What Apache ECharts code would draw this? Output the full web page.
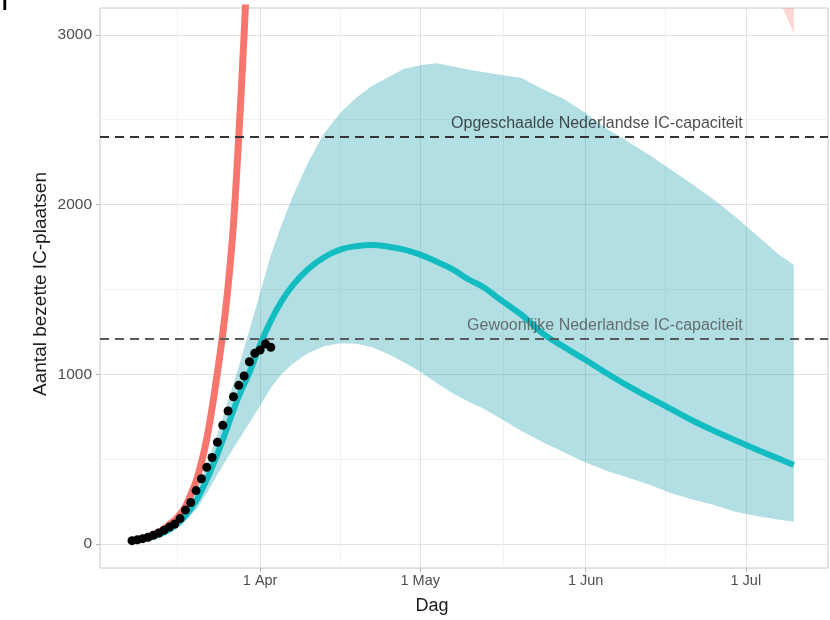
<!DOCTYPE html>
<html><head><meta charset="utf-8">
<script src="https://cdn.jsdelivr.net/npm/echarts@6/dist/echarts.min.js"></script>
<style>html,body{margin:0;padding:0;background:#fff}#chart{width:830px;height:620px}</style>
</head><body><div id="chart"></div>
<script>
// x values: days since 1 March 2020 (1 Mar = 0)
const xTickDays = [31, 61, 92, 122];
const xTickLabels = ['1 Apr', '1 May', '1 Jun', '1 Jul'];
const xMinorDays = [15.5, 46, 76.5, 107];
const yTicks = [0, 1000, 2000, 3000];
const yTickLabels = ['0', '1000', '2000', '3000'];
const yMinorTicks = [500, 1500, 2500];

// observed ICU occupancy (black dots)
const obsDays = [7,8,9,10,11,12,13,14,15,16,17,18,19,20,21,22,23,24,25,26,27,28,29,30,31,32,33];
const obsValues = [20,25,32,40,52,65,82,100,118,150,200,245,315,385,452,510,600,700,784,868,935,990,1074,1124,1143,1179,1159];

// red scenario (line + ribbon)
const redDays = [7,8,9,10,11,12,13,14,15,16,17,18,19,20,21,22,23,24,25,26,27,28,29,30];
const redValues = [20,26,33,43,55,70,90,115,140,175,220,290,370,480,620,800,1010,1240,1520,1880,2400,3000,3700,4500];
const redLow = [18,23,29,38,48,61,79,100,122,152,192,255,325,425,550,715,905,1110,1370,1700,2180,2740,3380,4120];
const redHigh = [22,29,37,48,62,79,101,130,158,198,248,325,415,535,690,885,1115,1370,1670,2060,2620,3260,4020,4880];
const redTailDays = [127,128,129,130,131];
const redTailLow = [3290,3220,3150,3080,3010];
const redTailHigh = [6000,6000,6000,6000,6000];

// teal scenario (line + ribbon)
const tealDays = [7,9,11,13,15,17,19,21,23,25,27,29,31,33,35,37,40,43,46,49,52,55,58,61,64,67,70,73,76,80,84,88,92,96,100,104,108,112,116,120,124,128,131];
const tealValues = [20,29,44,68,105,165,255,380,530,700,870,1010,1175,1315,1430,1520,1620,1690,1735,1755,1762,1752,1735,1705,1665,1620,1560,1510,1440,1350,1240,1160,1084,1005,930,862,795,728,668,612,557,505,466];
const tealLow = [20,27,40,60,92,140,200,300,410,515,615,715,815,920,1000,1060,1125,1165,1183,1180,1160,1120,1070,1015,950,890,840,795,740,665,600,540,480,430,390,350,300,262,230,190,165,145,131];
const tealHigh = [20,31,48,78,124,200,315,465,645,845,1045,1260,1480,1700,1880,2040,2250,2420,2540,2630,2700,2750,2800,2820,2833,2815,2795,2780,2765,2745,2680,2620,2540,2445,2370,2290,2205,2120,2030,1929,1820,1710,1644];

// IC capacity reference lines
const capacityValues = [2400, 1210];
const capacityLabels = ['Opgeschaalde Nederlandse IC-capaciteit', 'Gewoonlijke Nederlandse IC-capaciteit'];
const capacityLabelAnchors = [[94.1, 2478], [95.6, 1287]];

const FONT = '"Liberation Sans", Arial, Helvetica, sans-serif';

function ribbon(name, days, lo, hi, fill) {
  return {
    type: 'custom', name: name, silent: true, clip: true,
    data: days.map((d, i) => [d, lo[i], hi[i]]),
    encode: { x: 0, y: [1, 2] },
    renderItem: function (params, api) {
      if (params.dataIndex !== 0) return null;
      const pts = [];
      for (let i = 0; i < days.length; i++) pts.push(api.coord([days[i], hi[i]]));
      for (let i = days.length - 1; i >= 0; i--) pts.push(api.coord([days[i], lo[i]]));
      const cs = params.coordSys;
      return {
        type: 'polygon', shape: { points: pts }, style: { fill: fill },
        clipPath: { type: 'rect', shape: { x: cs.x, y: cs.y, width: cs.width, height: cs.height } }
      };
    }
  };
}

const chart = echarts.init(document.getElementById('chart'), null, { renderer: 'canvas' });
chart.setOption({
  animation: false,
  backgroundColor: '#ffffff',
  grid: { left: 100, right: 2, top: 8, bottom: 52, show: true, borderColor: '#c6c6c6', borderWidth: 1, backgroundColor: 'transparent' },
  xAxis: [{
    type: 'value', min: 1.0, max: 137.4,
    axisLine: { show: false, onZero: false },
    axisTick: { show: true, length: 4, lineStyle: { color: '#b3b3b3' }, customValues: xTickDays },
    axisLabel: { customValues: xTickDays, margin: 5, fontSize: 14.5, color: '#4d4d4d', fontFamily: FONT,
      formatter: v => xTickLabels[xTickDays.indexOf(Math.round(v))] },
    splitLine: { show: true, lineStyle: { color: '#e2e2e2', width: 1 } }
  }, {
    type: 'value', min: 1.0, max: 137.4, position: 'top',
    axisLine: { show: false, onZero: false },
    axisTick: { show: false, customValues: xMinorDays },
    axisLabel: { show: false },
    splitLine: { show: true, lineStyle: { color: '#f1f1f1', width: 1 } }
  }],
  yAxis: [{
    type: 'value', min: -141, max: 3158,
    axisLine: { show: false, onZero: false },
    axisTick: { show: true, length: 4, lineStyle: { color: '#b3b3b3' }, customValues: yTicks },
    axisLabel: { customValues: yTicks, margin: 8, fontSize: 15.5, color: '#4d4d4d', fontFamily: FONT,
      formatter: v => yTickLabels[yTicks.indexOf(Math.round(v))] },
    splitLine: { show: true, lineStyle: { color: '#e2e2e2', width: 1 } }
  }, {
    type: 'value', min: -141, max: 3158, position: 'right',
    axisLine: { show: false, onZero: false },
    axisTick: { show: false, customValues: yMinorTicks },
    axisLabel: { show: false },
    splitLine: { show: true, lineStyle: { color: '#f1f1f1', width: 1 } }
  }],
  series: [
    ribbon('redRibbon', redDays, redLow, redHigh, 'rgba(248,118,109,0.3)'),
    ribbon('redRibbonTail', redTailDays, redTailLow, redTailHigh, 'rgba(248,118,109,0.3)'),
    ribbon('tealRibbon', tealDays, tealLow, tealHigh, 'rgba(0,150,165,0.3)'),
    {
      type: 'line', name: 'red', data: redDays.map((d, i) => [d, redValues[i]]),
      showSymbol: false, smooth: 0.3, clip: true, silent: true, z: 3,
      lineStyle: { color: '#F8766D', width: 7 }
    },
    {
      type: 'line', name: 'teal', data: tealDays.map((d, i) => [d, tealValues[i]]),
      showSymbol: false, smooth: 0.4, clip: true, silent: true, z: 3,
      lineStyle: { color: '#13bcc1', width: 6 }
    },
    {
      type: 'scatter', name: 'observed', data: obsDays.map((d, i) => [d, obsValues[i]]),
      symbol: 'circle', symbolSize: 9, silent: true, z: 6,
      itemStyle: { color: '#000000', opacity: 1 }
    },
    {
      type: 'scatter', name: 'capacity', silent: true, symbolSize: 1, z: 7,
      itemStyle: { color: 'transparent' },
      data: capacityLabelAnchors.map((p, i) => ({
        value: p, name: capacityLabels[i],
        label: { color: i === 0 ? '#1f1f1f' : '#505050' }
      })),
      label: { show: true, position: 'inside', formatter: '{b}', fontSize: 16, fontFamily: FONT },
      markLine: {
        silent: true, symbol: 'none', label: { show: false }, z: 5,
        data: capacityValues.map((v, i) => ({
          yAxis: v,
          lineStyle: { color: i === 0 ? '#333333' : '#5a5a5a', width: 2, type: [9, 6] }
        }))
      }
    }
  ],
  graphic: [
    { type: 'text', x: 41, y: 284, rotation: Math.PI / 2,
      style: { text: 'Aantal bezette IC-plaatsen', fontSize: 19, fontFamily: FONT, fill: '#1a1a1a', textAlign: 'center', textVerticalAlign: 'middle' } },
    { type: 'text', x: 432, y: 606,
      style: { text: 'Dag', fontSize: 18, fontFamily: FONT, fill: '#1a1a1a', textAlign: 'center', textVerticalAlign: 'middle' } },
    { type: 'text', x: 2, y: -6,
      style: { text: 'I', fontSize: 20, fontWeight: 'bold', fontFamily: FONT, fill: '#000000' } }
  ]
});
</script>
</body></html>
